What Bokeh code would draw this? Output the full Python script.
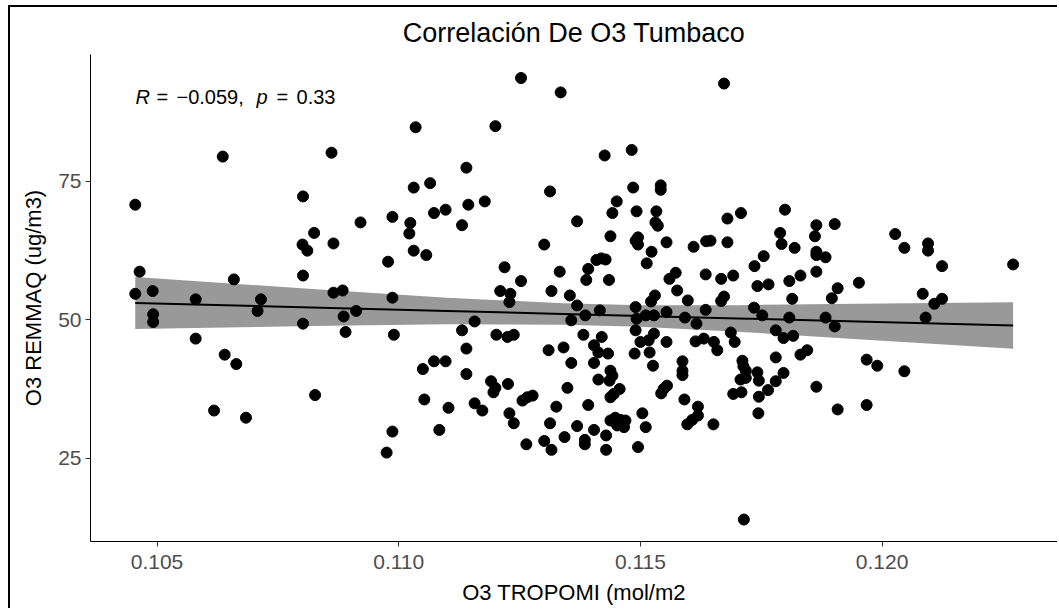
from bokeh.plotting import figure
from bokeh.models import FixedTicker, Range1d
from bokeh.core.properties import value
from bokeh.embed import file_html
from bokeh.resources import INLINE

title_text = "Correlación De O3 Tumbaco"
x_label = "O3 TROPOMI (mol/m2"
y_label = "O3 REMMAQ (ug/m3)"

x_ticks = [0.105, 0.110, 0.115, 0.120]
x_tick_labels = ["0.105", "0.110", "0.115", "0.120"]
y_ticks = [25, 50, 75]
y_tick_labels = ["25", "50", "75"]

o3_tropomi = [
    0.10636, 0.10861, 0.10455, 0.10802, 0.10825, 0.10801, 0.10811, 0.10865, 0.10464, 0.10802,
    0.10659, 0.10455, 0.10491, 0.1058, 0.10715, 0.10865, 0.10708, 0.10492, 0.10492, 0.10802,
    0.1058, 0.1064, 0.10664, 0.10827, 0.10618, 0.10684,
    0.11253, 0.11335, 0.11035, 0.112, 0.1114, 0.11031, 0.11065, 0.11313, 0.11178, 0.11144,
    0.11097, 0.11073, 0.10921, 0.10987, 0.11024, 0.11022, 0.11131, 0.11031, 0.11057, 0.11301,
    0.10978, 0.11219, 0.11333, 0.11253, 0.10884, 0.10987, 0.1121, 0.11231, 0.11229, 0.11316,
    0.10886, 0.10912, 0.1089, 0.1099, 0.11157, 0.11131, 0.11202, 0.11225, 0.11238, 0.1114,
    0.1131, 0.11341, 0.1105, 0.11073, 0.11097, 0.1114, 0.11191, 0.112, 0.11196, 0.11226,
    0.11053, 0.11103, 0.11157, 0.11173, 0.11256, 0.11266, 0.11277, 0.11326, 0.11229, 0.11238,
    0.11313, 0.11343, 0.10987, 0.11084, 0.10975, 0.11264, 0.11301, 0.11316, 0.11349,
    0.11673, 0.11426, 0.11482, 0.11485, 0.11542, 0.11542, 0.11451, 0.11442, 0.11492, 0.11533,
    0.11531, 0.11536, 0.11369, 0.11438, 0.1149, 0.11495, 0.11495, 0.11554, 0.11523, 0.11513,
    0.1161, 0.11636, 0.11645, 0.1168, 0.1168, 0.11708, 0.11799, 0.11789, 0.11792, 0.11819,
    0.11392, 0.11388, 0.11409, 0.11419, 0.11428, 0.11435, 0.11354, 0.11369, 0.1149, 0.1153,
    0.11522, 0.1156, 0.11573, 0.11576, 0.11598, 0.11635, 0.11667, 0.11692, 0.11673, 0.11667,
    0.11736, 0.11755, 0.11742, 0.11765, 0.11808, 0.11814, 0.11635,
    0.11864, 0.11902, 0.11861, 0.11864, 0.11864, 0.11883, 0.11831, 0.11864, 0.11908, 0.11896,
    0.11952, 0.12027, 0.12046, 0.12095, 0.12095, 0.12124, 0.12271, 0.12084, 0.12124, 0.12108,
    0.11883, 0.11902, 0.1209, 0.11816, 0.11831, 0.11845, 0.11968, 0.1199, 0.12046, 0.11864,
    0.11908, 0.11968,
    0.11416, 0.11386, 0.11357, 0.11492, 0.11511, 0.11528, 0.11554, 0.11592, 0.11616, 0.11735,
    0.11752, 0.11808, 0.1178, 0.11796, 0.11382, 0.1142, 0.11404, 0.11413, 0.11433, 0.11357,
    0.11404, 0.11438, 0.11442, 0.11436, 0.11413, 0.11457, 0.11445, 0.11438, 0.1149, 0.115,
    0.11517, 0.11528, 0.11488, 0.11519, 0.11526, 0.11554, 0.11548, 0.11555, 0.11543, 0.11587,
    0.11587, 0.11587, 0.11591, 0.11614, 0.11631, 0.11652, 0.11659, 0.11619, 0.11619, 0.11607,
    0.11597, 0.11651, 0.11392, 0.11504, 0.11438, 0.11448, 0.11459, 0.11469, 0.11452, 0.11466,
    0.11511, 0.11369, 0.11404, 0.11385, 0.11385, 0.11429, 0.11429, 0.11495, 0.11687, 0.11695,
    0.11711, 0.11713, 0.11718, 0.11707, 0.11718, 0.11742, 0.11745, 0.11692, 0.11709, 0.11745,
    0.11764, 0.1178, 0.11796, 0.1178, 0.11744, 0.11714,
]

o3_remmaq = [
    79.5, 80.2, 70.8, 72.3, 65.7, 63.6, 62.5, 63.8, 58.7, 58.0,
    57.3, 54.7, 55.2, 53.7, 53.7, 54.9, 51.6, 51.0, 49.6, 49.3,
    46.6, 43.7, 42.0, 36.4, 33.6, 32.3,
    93.7, 91.1, 84.8, 85.0, 77.5, 73.9, 74.7, 73.2, 71.4, 70.8,
    69.9, 69.3, 67.6, 68.6, 67.5, 65.6, 67.1, 62.5, 61.7, 63.6,
    60.5, 59.5, 58.7, 57.0, 55.3, 54.0, 55.2, 54.7, 53.2, 55.2,
    50.6, 51.6, 47.8, 47.3, 49.7, 48.1, 47.3, 46.9, 47.3, 44.8,
    44.5, 45.0, 41.1, 42.5, 42.5, 40.2, 38.9, 37.7, 36.9, 38.4,
    35.6, 34.1, 34.9, 33.6, 35.4, 36.0, 36.3, 34.3, 33.1, 31.3,
    31.3, 28.8, 29.8, 30.1, 26.0, 27.5, 28.1, 26.5, 37.7,
    92.7, 79.7, 80.7, 73.9, 74.3, 73.5, 71.4, 69.3, 69.6, 69.6,
    67.6, 67.0, 67.8, 65.1, 64.3, 64.9, 63.6, 64.0, 62.3, 60.2,
    63.2, 64.2, 64.3, 64.0, 68.3, 69.3, 69.9, 65.7, 63.7, 63.0,
    59.2, 57.2, 60.8, 61.1, 60.9, 57.2, 54.4, 52.6, 52.3, 54.4,
    53.3, 57.4, 58.5, 55.3, 53.5, 58.2, 57.4, 58.0, 54.2, 53.4,
    59.7, 61.5, 56.1, 56.4, 57.0, 53.8, 51.8,
    67.1, 67.3, 65.1, 62.3, 61.7, 61.3, 58.0, 58.7, 55.7, 53.9,
    56.7, 65.5, 63.0, 63.8, 62.5, 59.7, 60.0, 54.7, 53.8, 52.9,
    50.4, 48.8, 50.4, 47.1, 43.7, 44.5, 42.8, 41.7, 40.7, 37.9,
    33.8, 34.6,
    51.7, 50.8, 49.9, 50.2, 50.8, 50.8, 51.4, 50.4, 49.3, 52.2,
    50.8, 50.4, 48.1, 46.7, 47.3, 46.9, 45.4, 44.1, 43.9, 42.2,
    42.2, 40.8, 39.9, 39.0, 39.2, 37.5, 36.6, 36.0, 48.1, 46.0,
    46.3, 47.5, 43.9, 44.1, 41.7, 46.0, 37.5, 38.1, 36.7, 42.5,
    40.8, 40.0, 35.6, 46.1, 46.6, 46.0, 44.5, 34.3, 32.7, 31.9,
    31.1, 31.1, 34.6, 33.1, 31.8, 32.3, 31.9, 31.8, 30.9, 30.6,
    30.6, 30.8, 30.1, 28.3, 27.5, 29.1, 26.5, 27.0, 47.7, 46.0,
    42.6, 41.6, 40.8, 39.2, 39.5, 40.5, 39.0, 36.6, 36.9, 36.1,
    37.3, 38.9, 40.4, 43.2, 33.1, 13.9,
]

# linear fit and its confidence band
fit_x = [0.10455, 0.1086, 0.1110, 0.1134, 0.1150, 0.1170, 0.1195, 0.12271]
fit_y = [53.04, 52.13, 51.59, 51.05, 50.69, 50.25, 49.69, 48.97]
ci_low = [48.34, 48.93, 49.19, 49.10, 48.74, 47.85, 46.49, 44.77]
ci_high = [57.74, 55.33, 53.99, 53.00, 52.64, 52.65, 52.89, 53.17]

# correlation annotation pieces
ann_italic = ["R", "p"]
ann_italic_x = [0.104555, 0.107058]
ann_plain = ["=", "\u22120.059,", "=", "0.33"]
ann_plain_x = [0.10499, 0.105403, 0.107472, 0.107886]
ann_y = 90.2

FONT = "Liberation Sans"

p = figure(
    width=1049, height=603,
    output_backend="svg", toolbar_location=None,
    x_range=Range1d(0.103624, 0.123628),
    y_range=Range1d(9.93, 97.95),
    min_border_left=80, min_border_right=2,
    min_border_top=47, min_border_bottom=69,
    title=title_text,
)
p.styles = {
    "margin-left": "8px", "margin-top": "5px",
    "border-left": "2px solid black", "border-top": "2px solid black",
}
p.background_fill_color = "white"
p.border_fill_color = "white"
p.outline_line_color = None
p.xgrid.visible = False
p.ygrid.visible = False

p.title.text_font = FONT
p.title.text_font_size = "27px"
p.title.text_font_style = "normal"
p.title.text_color = "black"
p.title.align = "center"
p.title.standoff = 13

p.xaxis.ticker = FixedTicker(ticks=x_ticks)
p.xaxis.major_label_overrides = dict(zip(x_ticks, x_tick_labels))
p.yaxis.ticker = FixedTicker(ticks=y_ticks)
p.yaxis.major_label_overrides = dict(zip(y_ticks, y_tick_labels))
p.xaxis.axis_label = x_label
p.yaxis.axis_label = y_label

for ax in (p.xaxis[0], p.yaxis[0]):
    ax.axis_line_color = "black"
    ax.axis_line_width = 1
    ax.major_tick_line_color = "#333333"
    ax.major_tick_in = 0
    ax.major_tick_out = 5
    ax.minor_tick_line_color = None
    ax.major_label_text_font = FONT
    ax.major_label_text_font_size = "21px"
    ax.major_label_text_color = "#4D4D4D"
    ax.axis_label_text_font = FONT
    ax.axis_label_text_font_size = "22px"
    ax.axis_label_text_font_style = "normal"
    ax.axis_label_text_color = "black"
p.xaxis.major_label_standoff = 8
p.yaxis.major_label_standoff = 4
p.xaxis.axis_label_standoff = 8
p.yaxis.axis_label_standoff = 9

p.varea(x=fit_x, y1=ci_low, y2=ci_high, fill_color="#999999", fill_alpha=1.0)
p.line(x=fit_x, y=fit_y, line_color="black", line_width=2)
p.scatter(x=o3_tropomi, y=o3_remmaq, size=11, fill_color="black", line_color="black")

p.text(x=ann_italic_x, y=[ann_y] * len(ann_italic), text=ann_italic,
       text_font=value(FONT), text_font_size=value("20px"),
       text_font_style=value("italic"), text_color="black",
       text_align="left", text_baseline="alphabetic")
p.text(x=ann_plain_x, y=[ann_y] * len(ann_plain), text=ann_plain,
       text_font=value(FONT), text_font_size=value("20px"),
       text_font_style=value("normal"), text_color="black",
       text_align="left", text_baseline="alphabetic")

open("out.html", "w").write(file_html(p, INLINE))
